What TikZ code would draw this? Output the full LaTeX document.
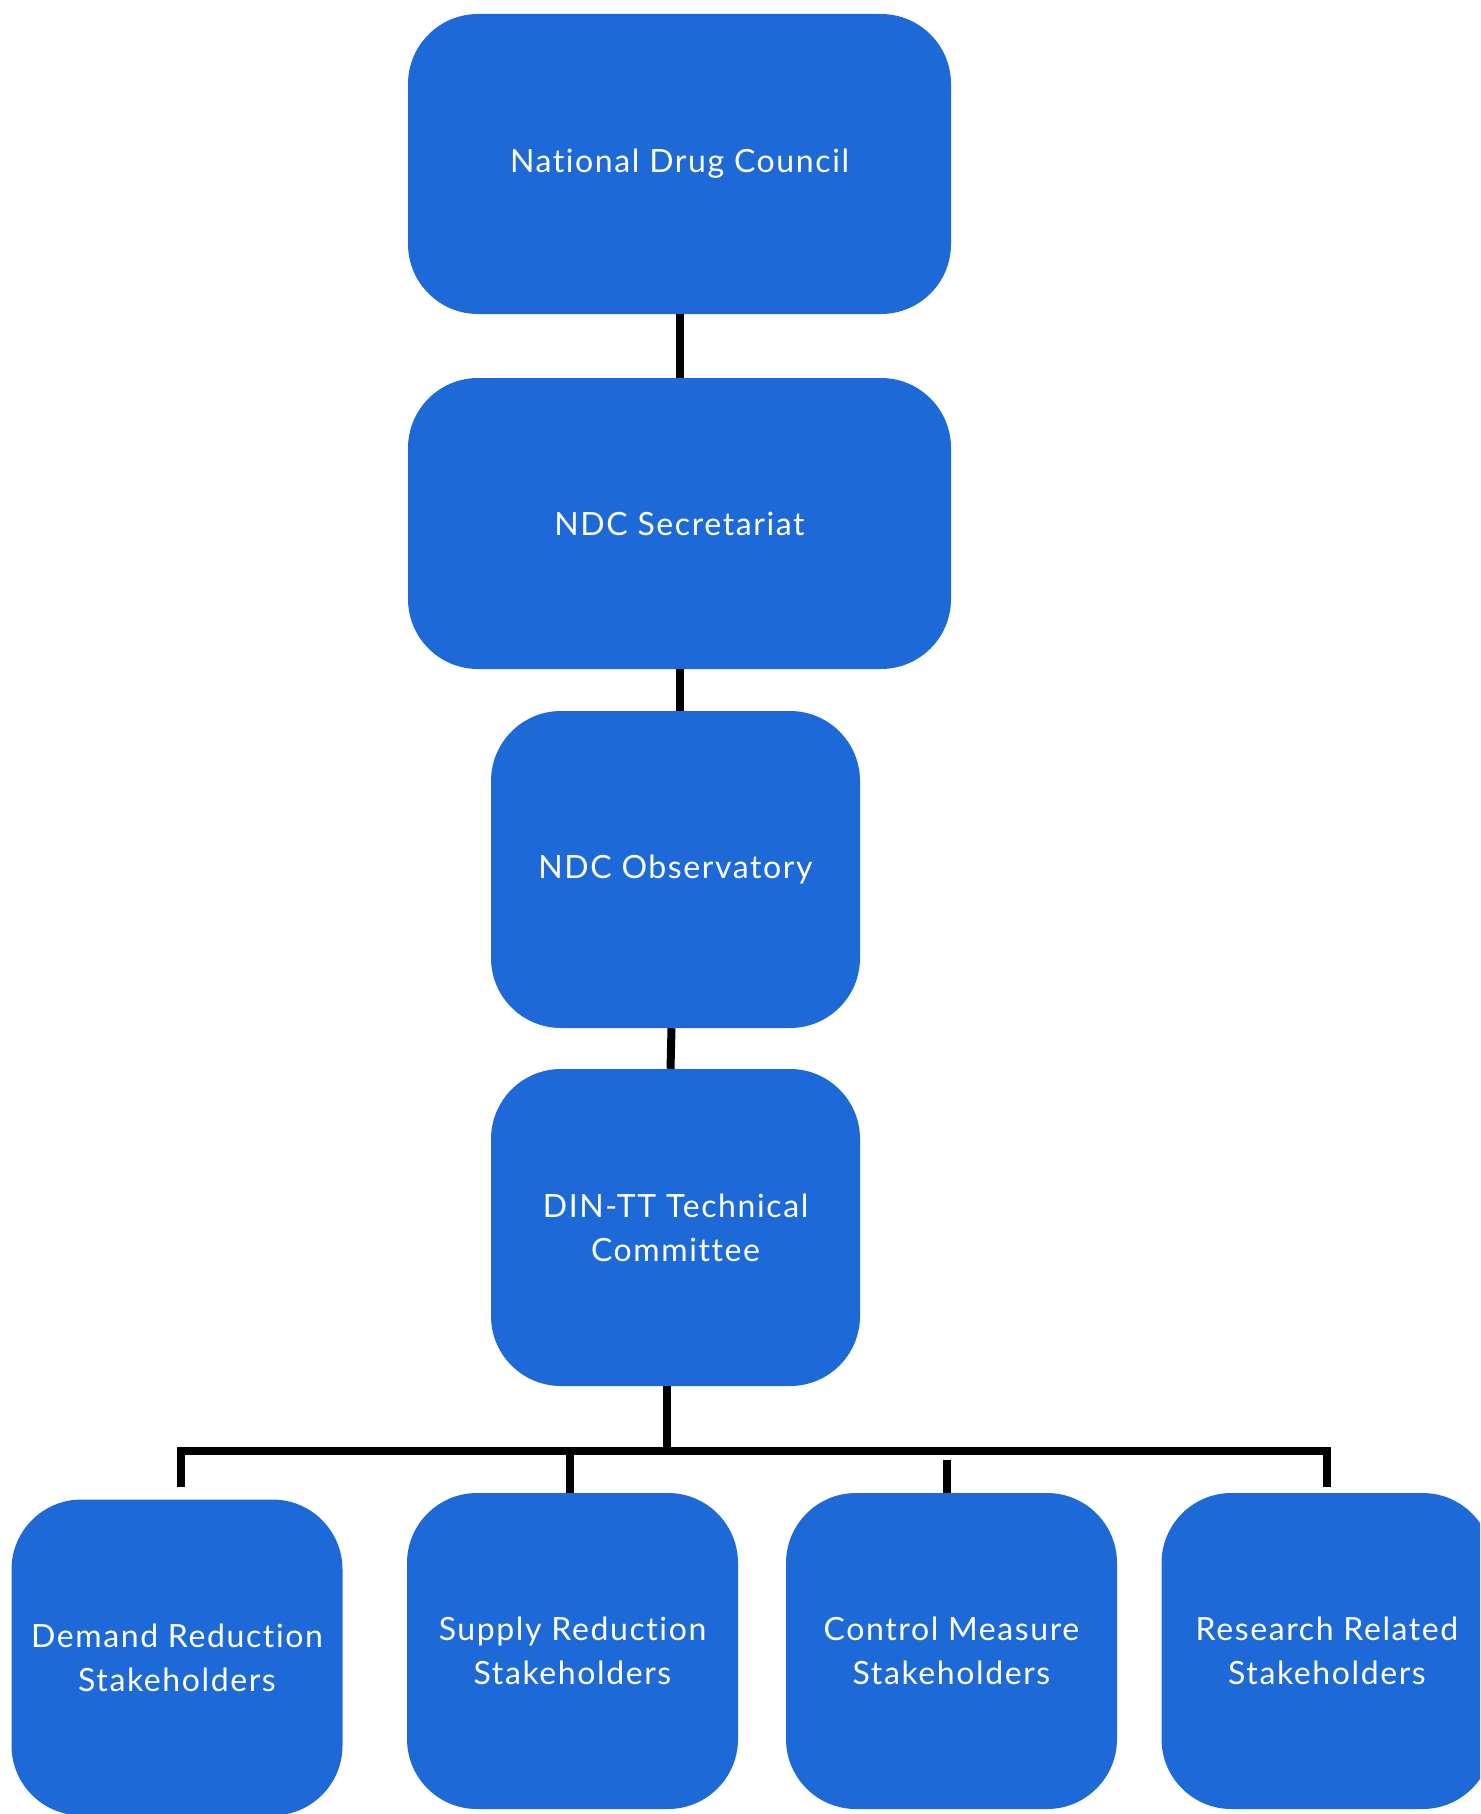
\documentclass[tikz,border=0pt]{standalone}
\usepackage{fontspec}
\setmainfont{Lato}[LetterSpace=5, Ligatures=NoCommon]
\usepackage{xcolor}
\usepackage{tikz}
\definecolor{ndcblue}{RGB}{30,105,216}

\begin{document}
\begin{tikzpicture}[
    x=1pt, y=-1pt,
    every node/.style={font=\fontsize{32}{44}\selectfont},
    box/.style={fill=ndcblue, text=white, rounded corners=70pt, align=center, inner sep=0pt},
    wide/.style={box, minimum width=543pt, minimum height=#1},
    narrow/.style={box, minimum width=369pt, minimum height=317pt},
    stake/.style={box, minimum width=331pt, minimum height=316pt},
    link/.style={line width=8pt, black}
]
\useasboundingbox (0,0) rectangle (1480,1814);
\clip (0,0) rectangle (1480,1814);

\node[wide=300pt] (ndc) at (679.5,164) {National Drug Council};
\node[wide=291pt] (sec) at (679.5,523.5) {NDC Secretariat};
\node[narrow] (obs) at (675.5,869.5) {NDC Observatory};
\node[narrow] (din) at (675.5,1227.5) {DIN-TT Technical\\Committee};

\node[stake] (dem) at (177,1657.5) {Demand Reduction\\Stakeholders};
\node[stake] (sup) at (572.5,1651) {Supply Reduction\\Stakeholders};
\node[stake] (ctl) at (951.5,1651) {Control Measure\\Stakeholders};
\node[stake] (res) at (1327,1651) {Research Related\\Stakeholders};

\coordinate (busL) at (181,1451);
\coordinate (busR) at (1327,1451);
\coordinate (demT) at (181,1487);
\coordinate (resT) at (1327,1487);
\coordinate (ctlT) at (947,1460);

\draw[link] (ndc.south) -- (sec.north);
\draw[link] (sec.south) -- (sec.south |- obs.north);
\draw[link] ([xshift=-4pt]obs.south) -- ([xshift=-5pt]din.north);
\draw[link] ([xshift=-9pt]din.south) -- ([xshift=-9pt]din.south |- busL);
\draw[link] (demT) -- (busL) -- (busR) -- (resT);
\draw[link] ([xshift=-3pt]sup.north |- busL) -- ([xshift=-3pt]sup.north);
\draw[link] (ctlT) -- (ctlT |- ctl.north);
\end{tikzpicture}
\end{document}
